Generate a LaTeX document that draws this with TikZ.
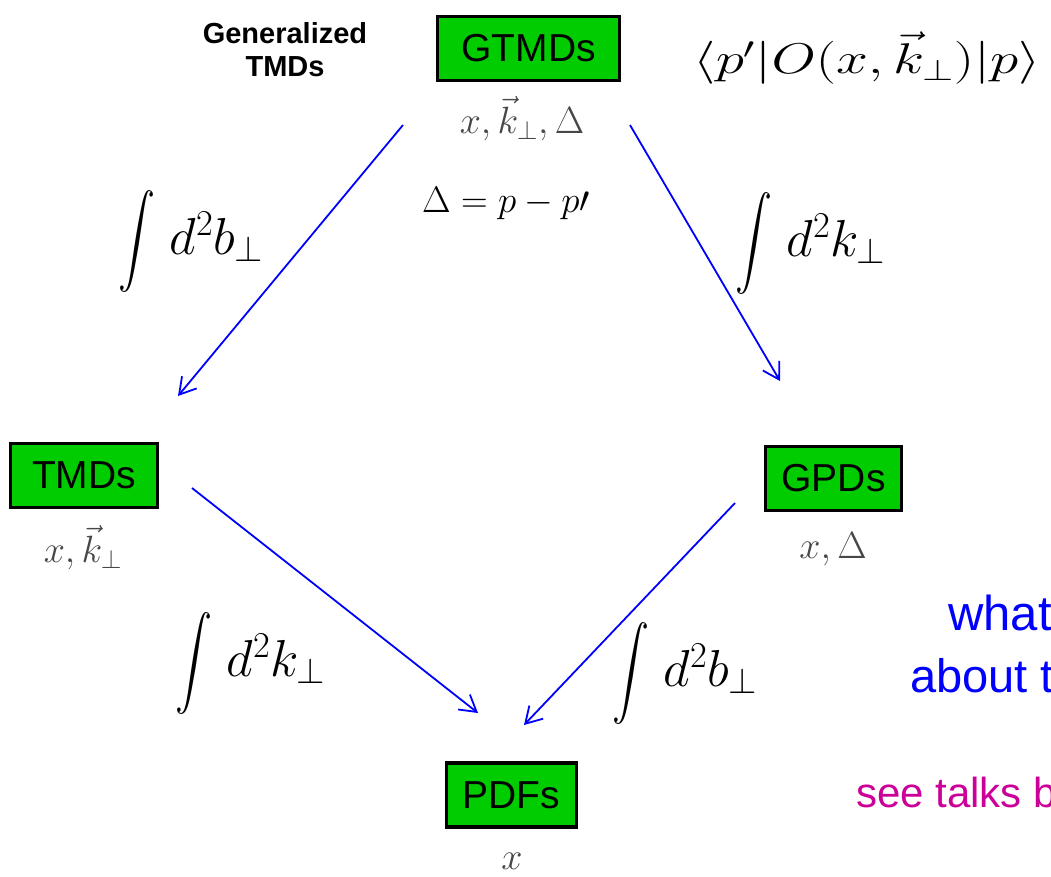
\RequirePackage{fix-cm}
\documentclass[tikz,border=0pt]{standalone}
\usepackage{amsmath}
\usepackage{graphicx}
\usepackage[no-math]{fontspec}
\newfontfamily\arialf{Liberation Sans}
\usetikzlibrary{arrows.meta}
\definecolor{boxgreen}{RGB}{0,204,0}
\definecolor{txtblue}{RGB}{0,0,255}
\definecolor{txtmag}{RGB}{204,0,153}
\newcommand{\myint}{\vcenter{\hbox{\resizebox*{37pt}{102pt}{$\displaystyle\int$}}}}
\tikzset{
  box/.style={draw=black, line width=3.5pt, fill=boxgreen, minimum height=64pt, inner sep=0pt,
    font=\arialf\fontsize{39}{47}\selectfont},
  varlab/.style={text=black!72, inner sep=0pt, font=\fontsize{38}{45}\selectfont},
  intlab/.style={inner sep=0pt, anchor=west, font=\fontsize{52}{62}\selectfont},
  conn/.style={draw=txtblue, line width=1.8pt, -{Straight Barb[length=16pt,width=19pt]}},
}
\begin{document}
\begin{tikzpicture}[x=1pt,y=-1pt]
\useasboundingbox (0,0) rectangle (1051,876);
\clip (0,0) rectangle (1051,876);
% boxes
\node[box, minimum width=182pt] (gtmd) at (528.5,48.5) {GTMDs};
\node[box, minimum width=147pt] (tmd) at (84,475.5) {TMDs};
\node[box, minimum width=136pt] (gpd) at (833.5,478.5) {GPDs};
\node[box, minimum width=130pt] (pdf) at (511.5,795) {PDFs};
% variables
\node[varlab] (gtmdv) at (522,119) {$x, \vec k_\perp, \Delta$};
\node[varlab] (tmdv) at (83,548) {$x, \vec k_\perp$};
\node[varlab] (gpdv) at (833,549) {$x, \Delta$};
\node[varlab] (pdfv) at (512,861) {$x$};
% other labels
\node[inner sep=0pt, align=center, font=\arialf\bfseries\fontsize{29}{33}\selectfont] (gen) at (285,50) {Generalized\\TMDs};
\node[inner sep=0pt, font=\fontsize{37}{44}\selectfont] (delta) at (506,203) {$\Delta = p - p\prime$};
\node[inner sep=0pt, font=\fontsize{43}{51}\selectfont] (braket) at (867,58) {\scalebox{1.33}[1]{$\langle p'|O(x,\vec k_\perp)|p\rangle$}};
% integrals
\node[intlab] (i1) at (118,241) {$\myint\; d^2b_\perp$};
\node[intlab] (i2) at (735,243) {$\myint\; d^2k_\perp$};
\node[intlab] (i3) at (175,663) {$\myint\; d^2k_\perp$};
\node[intlab] (i4) at (612,673) {$\myint\; d^2b_\perp$};
% side texts
\node[anchor=base west, inner sep=0pt, text=txtblue, font=\arialf\fontsize{49}{58}\selectfont] (what) at (948,630) {what};
\node[anchor=base west, inner sep=0pt, text=txtblue, font=\arialf\fontsize{47}{56}\selectfont] (about) at (910,692) {about t};
\node[anchor=base west, inner sep=0pt, text=txtmag, font=\arialf\fontsize{42}{50}\selectfont] (see) at (856,807) {see talks b};
% connector endpoints
\coordinate (a1s) at (403,125); \coordinate (a1e) at (178,396);
\coordinate (a2s) at (630,125); \coordinate (a2e) at (780,381);
\coordinate (a3s) at (192,488); \coordinate (a3e) at (478,713);
\coordinate (a4s) at (735,503); \coordinate (a4e) at (524,725);
\draw[conn] (a1s) -- (a1e);
\draw[conn] (a2s) -- (a2e);
\draw[conn] (a3s) -- (a3e);
\draw[conn] (a4s) -- (a4e);
\end{tikzpicture}
\end{document}
